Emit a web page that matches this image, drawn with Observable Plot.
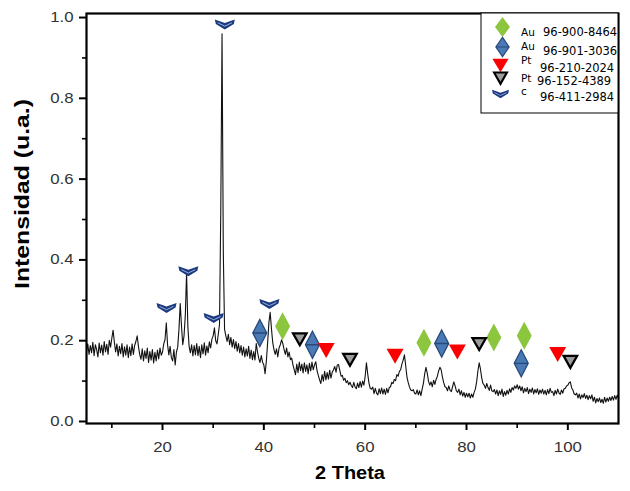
<!DOCTYPE html>
<html><head><meta charset="utf-8">
<script src="https://cdn.jsdelivr.net/npm/d3@7"></script>
<script src="https://cdn.jsdelivr.net/npm/@observablehq/plot@0.6"></script>
<style>body{margin:0;background:#fff;} #chart{width:630px;height:491px;position:relative;}</style>
</head><body><div id="chart"></div>
<script>
// ---- data ----
const thetaStart = 5, thetaStep = 0.25;
const intensity = [
0.172,0.192,0.166,0.188,0.170,0.196,0.163,0.190,0.178,0.160,0.194,0.170,0.189,0.164,0.198,0.172,0.191,0.166,0.201,0.184,
0.206,0.226,0.196,0.172,0.192,0.162,0.186,0.168,0.193,0.160,0.185,0.164,0.190,0.158,0.184,0.163,0.192,0.166,0.188,0.198,
0.212,0.186,0.166,0.154,0.180,0.150,0.175,0.156,0.182,0.146,0.173,0.152,0.178,0.145,0.171,0.150,0.177,0.155,0.182,0.164,
0.172,0.192,0.203,0.244,0.190,0.165,0.186,0.158,0.150,0.178,0.140,0.172,0.184,0.228,0.292,0.236,0.190,0.212,0.262,0.368,
0.236,0.186,0.170,0.190,0.162,0.188,0.165,0.193,0.163,0.186,0.158,0.190,0.167,0.195,0.164,0.187,0.170,0.197,0.182,0.204,
0.212,0.232,0.200,0.192,0.215,0.240,0.520,0.960,0.420,0.228,0.212,0.198,0.216,0.190,0.208,0.184,0.203,0.180,0.198,0.174,
0.193,0.170,0.188,0.164,0.184,0.160,0.180,0.162,0.186,0.156,0.177,0.153,0.173,0.152,0.193,0.172,0.156,0.146,0.163,0.147,
0.140,0.118,0.150,0.195,0.245,0.270,0.230,0.196,0.178,0.166,0.180,0.160,0.182,0.190,0.202,0.193,0.178,0.166,0.182,0.160,
0.172,0.153,0.157,0.140,0.128,0.116,0.142,0.121,0.147,0.126,0.142,0.120,0.145,0.124,0.140,0.118,0.144,0.125,0.147,0.128,
0.140,0.148,0.126,0.114,0.103,0.094,0.116,0.100,0.124,0.103,0.121,0.105,0.127,0.107,0.122,0.128,0.136,0.122,0.140,0.141,
0.126,0.112,0.114,0.102,0.107,0.096,0.101,0.091,0.097,0.089,0.084,0.097,0.086,0.081,0.095,0.084,0.099,0.085,0.100,0.090,
0.112,0.145,0.118,0.095,0.082,0.080,0.085,0.069,0.082,0.070,0.066,0.081,0.069,0.083,0.068,0.080,0.067,0.082,0.071,0.084,
0.086,0.097,0.094,0.104,0.101,0.116,0.112,0.124,0.128,0.142,0.152,0.165,0.138,0.110,0.096,0.085,0.078,0.076,0.079,0.070,
0.068,0.078,0.066,0.076,0.064,0.080,0.095,0.118,0.134,0.120,0.100,0.090,0.098,0.086,0.102,0.092,0.104,0.112,0.125,0.134,
0.128,0.110,0.096,0.086,0.084,0.076,0.088,0.078,0.074,0.086,0.098,0.088,0.076,0.072,0.080,0.066,0.076,0.063,0.072,0.060,
0.070,0.061,0.070,0.058,0.068,0.060,0.072,0.080,0.098,0.125,0.145,0.130,0.108,0.094,0.090,0.082,0.094,0.084,0.077,0.090,
0.076,0.074,0.079,0.068,0.078,0.064,0.076,0.067,0.080,0.062,0.074,0.065,0.077,0.068,0.081,0.072,0.084,0.078,0.088,0.082,
0.091,0.080,0.088,0.076,0.086,0.071,0.082,0.074,0.084,0.069,0.080,0.072,0.083,0.068,0.079,0.071,0.081,0.067,0.078,0.070,
0.080,0.068,0.077,0.066,0.079,0.069,0.082,0.072,0.074,0.064,0.077,0.068,0.080,0.071,0.067,0.078,0.070,0.081,0.082,0.088,
0.090,0.096,0.098,0.083,0.078,0.068,0.066,0.070,0.058,0.068,0.056,0.066,0.059,0.069,0.057,0.065,0.054,0.064,0.056,0.066,
0.050,0.060,0.046,0.057,0.049,0.058,0.047,0.055,0.045,0.060,0.048,0.058,0.050,0.060,0.052,0.062,0.053,0.064,0.055,0.065,
0.058
];

// phase markers (2θ, intensity)
const auA_theta = [43.7, 71.6, 85.4, 91.4];
const auA_int   = [0.236, 0.195, 0.208, 0.212];
const auB_theta = [39.2, 49.6, 75.1, 90.8];
const auB_int   = [0.219, 0.190, 0.193, 0.144];
const ptA_theta = [52.3, 65.9, 78.2, 98.0];
const ptA_int   = [0.177, 0.163, 0.173, 0.167];
const ptB_theta = [47.1, 57.0, 82.5, 100.5];
const ptB_int   = [0.204, 0.153, 0.192, 0.148];
const c_theta   = [20.8, 25.1, 30.1, 32.3, 41.1];
const c_int     = [0.281, 0.372, 0.256, 0.983, 0.291];

const legendElements = ["Au", "Au", "Pt", "Pt", "c"];
const legendCodes = ["96-900-8464", "96-901-3036", "96-210-2024", "96-152-4389", "96-411-2984"];

const xTicksMajor = [20, 40, 60, 80, 100];
const xTicksMinor = [10, 30, 50, 70, 90];
const yTicksMajor = [0.0, 0.2, 0.4, 0.6, 0.8, 1.0];
const yTicksMinor = [0.1, 0.3, 0.5, 0.7, 0.9];
const xTitle = "2 Theta";
const yTitle = "Intensidad (u.a.)";

// ---- build tables ----
const spectrum = intensity.map((v, i) => ({theta: thetaStart + i * thetaStep, I: v}));
const pts = (t, v) => t.map((x, i) => ({theta: x, I: v[i]}));

// ---- custom symbols ----
const diamondSym = {draw(c) { c.moveTo(0, -14); c.lineTo(7.5, 0); c.lineTo(0, 14); c.lineTo(-7.5, 0); c.closePath(); }};
const diamondLineSym = {draw(c) { c.moveTo(0, -13.5); c.lineTo(7, 0); c.lineTo(0, 13.5); c.lineTo(-7, 0); c.closePath(); c.moveTo(-7, 0); c.lineTo(7, 0); }};
const triRedSym = {draw(c) { c.moveTo(-8.5, -7); c.lineTo(8.5, -7); c.lineTo(0, 8); c.closePath(); }};
const triGraySym = {draw(c) { c.moveTo(-6.8, -5.8); c.lineTo(6.8, -5.8); c.lineTo(0, 6.2); c.closePath(); }};
const chevronSym = {draw(c) { c.moveTo(-10, -5); c.lineTo(0, -1.5); c.lineTo(10, -5); c.lineTo(9, -0.5); c.lineTo(0, 5); c.lineTo(-9, -0.5); c.closePath(); }};
const chevronInnerSym = {draw(c) { c.moveTo(-7, -1.6); c.lineTo(0, 1.75); c.lineTo(7, -1.6); }};

const colors = {green: "#8cc63f", blue: "#4a7ab5", blueStroke: "#28497a", red: "#fb0000", gray: "#9c9c9c", navy: "#1b3a80", navyInner: "#a9bde0"};

const font = "'Liberation Sans', Arial, sans-serif";

const plot = Plot.plot({
  width: 630,
  height: 491,
  marginLeft: 86,
  marginRight: 12,
  marginTop: 13,
  marginBottom: 68,
  style: {fontFamily: font, fontSize: "14px", background: "#fff", color: "#000"},
  x: {domain: [5, 110]},
  y: {domain: [-0.005, 1.01]},
  marks: [
    Plot.line(spectrum, {x: "theta", y: "I", stroke: "#111", strokeWidth: 1.1}),
    Plot.dot(pts(auA_theta, auA_int), {x: "theta", y: "I", symbol: diamondSym, r: 5, fill: colors.green, stroke: "none"}),
    Plot.dot(pts(auB_theta, auB_int), {x: "theta", y: "I", symbol: diamondLineSym, r: 5, fill: colors.blue, stroke: colors.blueStroke, strokeWidth: 1.3}),
    Plot.dot(pts(ptA_theta, ptA_int), {x: "theta", y: "I", symbol: triRedSym, r: 5, fill: colors.red, stroke: "none"}),
    Plot.dot(pts(ptB_theta, ptB_int), {x: "theta", y: "I", symbol: triGraySym, r: 5, fill: colors.gray, stroke: "#000", strokeWidth: 2.2}),
    Plot.dot(pts(c_theta, c_int), {x: "theta", y: "I", symbol: chevronSym, r: 5, fill: colors.navy, stroke: "none"}),
    Plot.dot(pts(c_theta, c_int), {x: "theta", y: "I", symbol: chevronInnerSym, r: 5, fill: "none", stroke: colors.navyInner, strokeWidth: 0.9}),
    Plot.axisX({ticks: xTicksMajor, tickSize: 7, tickPadding: 12, strokeWidth: 2, stroke: "#000", fill: "#333", label: null}),
    Plot.axisX({ticks: xTicksMinor, tickSize: 5, strokeWidth: 1.6, stroke: "#000", tickFormat: () => "", label: null}),
    Plot.axisY({ticks: yTicksMajor, tickSize: 7, tickPadding: 6, strokeWidth: 2, stroke: "#000", fill: "#333", tickFormat: d3.format(".1f"), label: null}),
    Plot.axisY({ticks: yTicksMinor, tickSize: 4, strokeWidth: 1.6, stroke: "#000", tickFormat: () => "", label: null}),
    Plot.frame({stroke: "#000", strokeWidth: 2.2})
  ]
});
document.getElementById("chart").appendChild(plot);

const svg = d3.select(plot);
// widen tick labels to match the reference's stretched look
svg.selectAll('g[aria-label="x-axis tick label"] text, g[aria-label="y-axis tick label"] text').each(function() {
  const t = this.getAttribute("transform");
  if (t) this.setAttribute("transform", t + " scale(1.2,1)");
});

// axis titles
svg.append("text").attr("x", 350).attr("y", 479).attr("text-anchor", "middle")
  .attr("font-family", font).attr("font-weight", "bold").attr("font-size", 18).attr("fill", "#000")
  .attr("textLength", 70).attr("lengthAdjust", "spacingAndGlyphs").text(xTitle);
svg.append("text").attr("transform", "translate(29,194) rotate(-90)").attr("text-anchor", "middle")
  .attr("font-family", font).attr("font-weight", "bold").attr("font-size", 20).attr("fill", "#000")
  .attr("textLength", 190).attr("lengthAdjust", "spacingAndGlyphs").text(yTitle);

// legend
const lg = svg.append("g").attr("aria-label", "legend").attr("text-anchor", "start");
lg.append("rect").attr("x", 481).attr("y", 13).attr("width", 137).attr("height", 100).attr("fill", "#fff").attr("stroke", "#000").attr("stroke-width", 1);
const legendSyms = [
  [{sym: diamondSym, fill: colors.green, stroke: "none", sw: 0, sx: 1, sy: 0.72}],
  [{sym: diamondLineSym, fill: colors.blue, stroke: colors.blueStroke, sw: 1.3, sx: 0.95, sy: 0.72}],
  [{sym: triRedSym, fill: colors.red, stroke: "none", sw: 0, sx: 0.95, sy: 0.9}],
  [{sym: triGraySym, fill: colors.gray, stroke: "#000", sw: 2.2, sx: 0.95, sy: 0.95}],
  [{sym: chevronSym, fill: colors.navy, stroke: "none", sw: 0, sx: 0.85, sy: 0.85}, {sym: chevronInnerSym, fill: "none", stroke: colors.navyInner, sw: 0.9, sx: 0.85, sy: 0.85}]
];
const legendSymPos = [[502.5, 27], [502.5, 47], [500.5, 65], [500.5, 78], [500.5, 94]];
const legendElemY = [36, 50, 64, 82, 95];
const legendCodeY = [36, 55, 72, 85, 101];
const legendCodeX = [543, 543, 540, 537, 540];
legendSyms.forEach((layers, i) => {
  layers.forEach(s => {
    lg.append("path").attr("d", d3.symbol(s.sym)())
      .attr("transform", `translate(${legendSymPos[i][0]},${legendSymPos[i][1]}) scale(${s.sx},${s.sy})`)
      .attr("fill", s.fill).attr("stroke", s.stroke).attr("stroke-width", s.sw);
  });
  lg.append("text").attr("x", 521).attr("y", legendElemY[i]).attr("text-anchor", "start").attr("font-family", "'DejaVu Sans', sans-serif")
    .attr("font-size", 10.5).attr("fill", "#000").text(legendElements[i]);
  lg.append("text").attr("x", legendCodeX[i]).attr("y", legendCodeY[i]).attr("text-anchor", "start").attr("font-family", "'DejaVu Sans', sans-serif")
    .attr("font-size", 11.5).attr("fill", "#000").text(legendCodes[i]);
});
</script>
</body></html>
